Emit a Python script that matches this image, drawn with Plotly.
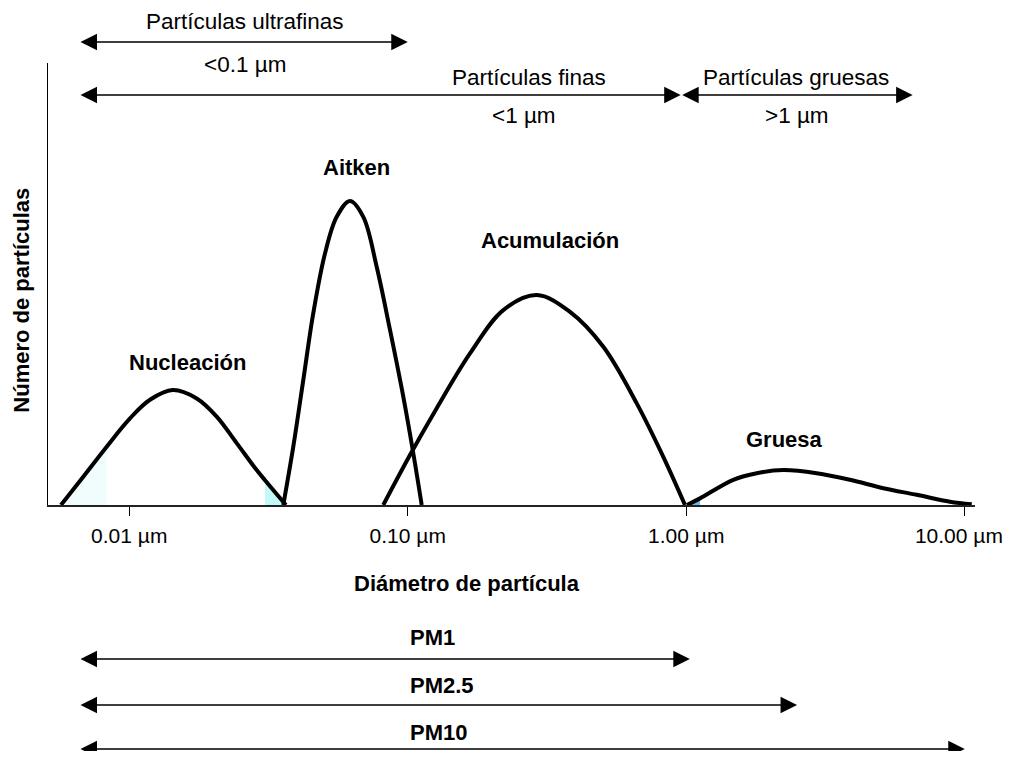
import math
import plotly.graph_objects as go

# ---- data (diameter in µm, relative number of particles 0-100) ----
nuc_x = [0.005688, 0.006839, 0.008299, 0.010063, 0.011871, 0.014322, 0.017469,
         0.020606, 0.02431, 0.02868, 0.03072, 0.03653]
nuc_y = [0, 6.4, 13.2, 19.6, 23.8, 26.0, 24.1, 20.0, 14.0, 7.9, 5.6, 0]

ait_x = [0.03574, 0.03882, 0.04217, 0.04580, 0.05045, 0.05558, 0.06203,
         0.06925, 0.07735, 0.08637, 0.09638, 0.10469, 0.11223]
ait_y = [0, 13.2, 28.3, 43.4, 56.9, 65.2, 68.8, 65.2, 53.9, 39.6, 24.5, 11.7, 0]

acu_x = [0.08168, 0.10188, 0.12705, 0.16732, 0.22034, 0.29040, 0.38242,
         0.50378, 0.66405, 0.82718, 0.98969]
acu_y = [0, 11.3, 21.9, 34.3, 44.1, 47.5, 43.7, 35.8, 23.0, 10.9, 0]

gru_x = [1.0062, 1.1205, 1.4752, 1.7906, 2.2311, 2.9403, 3.8726, 5.0995,
         6.7234, 8.8512, 10.593]
gru_y = [0, 1.5, 5.7, 7.2, 7.9, 7.2, 5.7, 3.8, 2.3, 0.75, 0.15]

# shaded fragments under the curves
shade_a_x = [0.005688, 0.006839, 0.008299]
shade_a_y = [0, 6.4, 13.2]
shade_b_x = [0.03072, 0.03653]
shade_b_y = [5.6, 0]
shade_c_x = [1.0062, 1.1205]
shade_c_y = [0, 1.5]

tick_vals = [0.01, 0.1, 1, 10]
tick_text = ["0.01 µm", "0.10 µm", "1.00 µm", "10.00 µm&nbsp;&nbsp;"]

mode_labels = ["Nucleación", "Aitken", "Acumulación", "Gruesa"]

# size ranges (µm): label, lower, upper
range_lower = 0.0066
top_ranges = [("ultrafinas", range_lower, 0.1), ("finas", range_lower, 0.955),
              ("gruesas", 0.955, 6.5)]
pm_names = ["PM1", "PM2.5", "PM10"]
pm_upper = [1.03, 2.5, 10.0]

FONT = "Liberation Sans, Arial, sans-serif"
REG = 22.5
BOLD = 22

fig = go.Figure()

fig.add_trace(go.Scatter(x=shade_a_x, y=shade_a_y, mode="lines", fill="tozeroy",
                         fillcolor="#f1fdfd", line=dict(width=0), hoverinfo="skip"))
fig.add_trace(go.Scatter(x=shade_b_x, y=shade_b_y, mode="lines", fill="tozeroy",
                         fillcolor="#c4f9fa", line=dict(width=0), hoverinfo="skip"))
fig.add_trace(go.Scatter(x=shade_c_x, y=shade_c_y, mode="lines", fill="tozeroy",
                         fillcolor="#5cc3f0", line=dict(width=0), hoverinfo="skip"))

for xs, ys in [(nuc_x, nuc_y), (ait_x, ait_y), (acu_x, acu_y), (gru_x, gru_y)]:
    fig.add_trace(go.Scatter(x=xs, y=ys, mode="lines",
                             line=dict(color="black", width=4, shape="spline", smoothing=1),
                             hoverinfo="skip"))

ann = []

def txt(text, x, y, size=REG, bold=False, angle=0, xanchor="center"):
    ann.append(dict(text=f"<b>{text}</b>" if bold else text, x=x, y=y,
                    xref="paper", yref="paper", showarrow=False,
                    xanchor=xanchor, yanchor="middle", textangle=angle,
                    font=dict(family=FONT, size=size, color="black")))

def arrow(lo, hi, y):
    ann.append(dict(text="", x=math.log10(hi), y=y, xref="x", yref="paper",
                    ax=math.log10(lo), ay=0, axref="x", ayref="pixel",
                    showarrow=True, arrowhead=2, arrowside="end+start",
                    arrowsize=2.2, arrowwidth=1.5, arrowcolor="black", standoff=0,
                    startstandoff=0))

# top range arrows and labels
arrow(top_ranges[0][1], top_ranges[0][2], 1.0475)
arrow(top_ranges[1][1], top_ranges[1][2], 0.9276)
arrow(top_ranges[2][1], top_ranges[2][2], 0.9276)
txt("Partículas ultrafinas", 0.2125, 1.0928)
txt("<0.1 µm", 0.2125, 0.9977)
txt("Partículas finas", 0.5186, 0.9683)
txt("<1 µm", 0.514, 0.8801)
txt("Partículas gruesas", 0.8066, 0.9683)
txt(">1 µm", 0.808, 0.8801)

# mode labels
for lab, (px, py) in zip(mode_labels, [(0.151, 0.3235), (0.3323, 0.7647),
                                       (0.5415, 0.5995), (0.794, 0.1471)]):
    txt(lab, px, py, size=BOLD, bold=True)

# axis titles
txt("Diámetro de partícula", 0.4525, -0.1765, size=BOLD, bold=True)
txt("Número de partículas", -0.0295, 0.4638, size=BOLD, bold=True, angle=-90)

# PM arrows
for name, hi, ly, ay in zip(pm_names, pm_upper, [-0.3009, -0.4095, -0.5158],
                            [-0.3484, -0.4525, -0.552]):
    txt(name, 0.3883, ly, size=BOLD, bold=True, xanchor="left")
    arrow(range_lower, hi, ay)

# the page body adds an 8px margin, so the figure is sized to fit inside the window
fig.update_layout(
    width=995, height=743,
    margin=dict(l=40, r=28, t=55, b=246, autoexpand=False),
    paper_bgcolor="white", plot_bgcolor="white",
    showlegend=False,
    annotations=ann,
    xaxis=dict(type="log", range=[-2.2917, 1.0368], tickvals=tick_vals, ticktext=tick_text,
               showline=True, linecolor="#222", linewidth=2, ticks="outside", ticklen=9,
               tickwidth=1, tickcolor="black", showgrid=False, zeroline=False,
               ticklabelstandoff=2, ticklabeloverflow="allow", automargin=False,
               tickfont=dict(family=FONT, size=21, color="black")),
    yaxis=dict(range=[0, 100], showline=True, linecolor="black", linewidth=1,
               automargin=False,
               showticklabels=False, ticks="", showgrid=False, zeroline=False),
)

fig.write_html("out.html")
